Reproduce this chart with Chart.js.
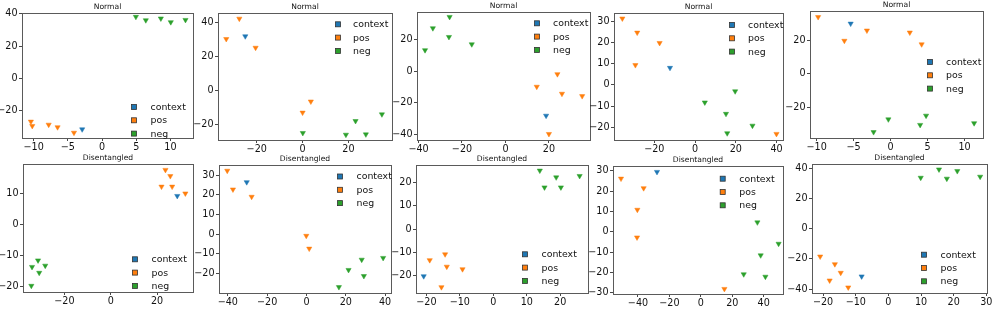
<!DOCTYPE html>
<html><head><meta charset="utf-8">
<script src="https://cdn.jsdelivr.net/npm/chart.js@4.4.1/dist/chart.umd.min.js"></script>
<style>
html,body{margin:0;padding:0;background:#fff;}
#wrap{position:relative;width:997px;height:310px;overflow:hidden;background:#fff;}
canvas{position:absolute;}
</style>
</head><body><div id="wrap"></div>
<script>
// ---------- data ----------
const seriesNames = ['context', 'pos', 'neg'];
const titles = ['Normal','Normal','Normal','Normal','Normal','Disentangled','Disentangled','Disentangled','Disentangled','Disentangled'];

const ctx1 = [[-2.9,-31.8]];
const pos1 = [[-10.4,-27.0],[-10.2,-29.7],[-7.8,-28.9],[-6.5,-30.5],[-4.1,-33.9]];
const neg1 = [[4.95,38.2],[6.4,36.1],[8.6,37.2],[10.05,34.9],[12.2,36.3]];

const ctx2 = [[-25.0,31.7]];
const pos2 = [[-33.3,30.1],[-27.6,42.0],[-20.5,25.0],[0.0,-12.9],[3.6,-6.4]];
const neg2 = [[0.1,-24.8],[18.9,-25.8],[23.1,-17.8],[27.6,-25.6],[34.6,-13.9]];

const ctx3 = [[18.7,-28.0]];
const pos3 = [[14.4,-9.8],[23.9,-1.9],[26.0,-14.2],[35.3,-15.7],[20.0,-39.5]];
const neg3 = [[-37.0,13.2],[-33.4,27.0],[-25.7,34.1],[-26.0,21.5],[-15.5,16.9]];

const ctx4 = [[-12.3,8.1]];
const pos4 = [[-35.7,31.5],[-28.4,24.8],[-17.4,19.9],[-29.3,9.4],[40.0,-23.2]];
const neg4 = [[4.8,-8.3],[15.2,-13.7],[19.7,-3.0],[15.8,-22.9],[28.2,-19.3]];

const ctx5 = [[-5.4,29.8]];
const pos5 = [[-9.8,33.7],[-6.25,19.6],[-3.2,25.7],[2.6,24.5],[4.2,17.5]];
const neg5 = [[-2.3,-34.7],[-0.3,-27.1],[4.0,-30.4],[4.8,-24.9],[11.3,-29.4]];

const ctx6 = [[28.7,9.2]];
const pos6 = [[23.6,17.6],[25.7,15.6],[21.9,12.2],[26.5,12.2],[32.2,10.0]];
const neg6 = [[-34.0,-13.7],[-31.4,-11.6],[-30.9,-15.6],[-28.3,-13.3],[-34.3,-19.8]];

const ctx7 = [[-30.4,26.4]];
const pos7 = [[-40.3,32.2],[-37.4,22.7],[-27.9,19.0],[-0.1,-0.8],[1.4,-7.3]];
const neg7 = [[16.5,-26.8],[21.4,-18.1],[28.1,-12.9],[29.2,-21.2],[39.0,-12.0]];

const ctx8 = [[-20.8,-20.2]];
const pos8 = [[-19.0,-13.3],[-14.4,-10.8],[-13.9,-16.1],[-9.2,-17.2],[-15.5,-24.9]];
const neg8 = [[13.9,25.1],[15.3,17.9],[18.8,22.2],[20.2,17.9],[25.8,22.8]];

const ctx9 = [[-27.9,29.5]];
const pos9 = [[-50.8,26.2],[-36.4,21.5],[-40.4,10.9],[-40.6,-2.7],[15.0,-28.0]];
const neg9 = [[36.0,4.7],[49.5,-5.8],[38.1,-11.5],[27.3,-20.8],[41.1,-22.0]];

const ctx10 = [[-8.2,-31.6]];
const pos10 = [[-20.9,-18.4],[-16.4,-23.5],[-14.6,-29.2],[-18.0,-34.3],[-12.3,-38.9]];
const neg10 = [[9.9,33.8],[15.5,39.3],[17.9,33.2],[21.1,38.2],[28.1,34.5]];

// axis limits [xmin, xmax, ymin, ymax]
const limits = [
  [-11.7,13.3,-37.2,40.6],[-36.9,39.0,-28.9,45.3],[-40.7,38.9,-43.3,37.2],[-39.8,43.2,-26.1,34.1],[-10.9,12.5,-38.2,37.3],
  [-37.9,35.5,-21.8,19.5],[-44.5,43.0,-29.8,35.1],[-23.1,28.3,-27.4,27.5],[-55.9,52.3,-30.5,32.4],[-23.4,30.2,-42.6,42.9]
];
const xTicks = [
  [-10,-5,0,5,10],[-20,0,20],[-40,-20,0,20],[-20,0,20,40],[-10,-5,0,5,10],
  [-20,0,20],[-40,-20,0,20,40],[-20,-10,0,10,20],[-40,-20,0,20,40],[-20,-10,0,10,20,30]
];
const yTicks = [
  [-20,0,20,40],[-20,0,20,40],[-40,-20,0,20],[-20,-10,0,10,20,30],[-20,0,20],
  [-20,-10,0,10],[-20,-10,0,10,20,30],[-20,-10,0,10,20],[-30,-20,-10,0,10,20,30],[-40,-20,0,20,40]
];

const panels = [
  [ctx1,pos1,neg1],[ctx2,pos2,neg2],[ctx3,pos3,neg3],[ctx4,pos4,neg4],[ctx5,pos5,neg5],
  [ctx6,pos6,neg6],[ctx7,pos7,neg7],[ctx8,pos8,neg8],[ctx9,pos9,neg9],[ctx10,pos10,neg10]
];

// ---------- layout & style ----------
const colors = ['#1f77b4', '#ff7f0e', '#2ca02c'];
// plot boxes in page pixels [left, top, right, bottom]
const boxes = [
  [22,13,193,138],[218,13,392,140],[417,12,590,140],[614,13,783,140],[810,11,983,138],
  [23,164,193,292],[219,165,391,293],[416,165,588,293],[613,166,783,294],[812,164,987,293]
];
// legend [square centre x, first row centre y, text x] in page pixels
const legendPos = [
  [134,107,150.5],[338,24.3,353],[537,23.3,553],[732,25,748],[930,62,946],
  [135,259.3,151.5],[340,176.5,356.5],[525,254.3,541.5],[722.7,178.7,739.3],[924,254.7,940.5]
];
const legendStep = 13.3;
const FONT = "'DejaVu Sans', sans-serif";
const PADL = 36, PADT = 14, PADR = 10, PADB = 18;
const spineColor = '#5a5a5a';

function fmt(v){ return v < 0 ? '\u2212' + Math.abs(v) : String(v); }

const framePlugin = {
  id: 'frame',
  afterDraw(chart, args, opts){
    const c = chart.ctx, a = chart.chartArea;
    c.save();
    c.strokeStyle = spineColor; c.lineWidth = 1;
    c.strokeRect(Math.round(a.left)+0.5, Math.round(a.top)+0.5, Math.round(a.right-a.left), Math.round(a.bottom-a.top));
    // title
    c.fillStyle = '#111';
    c.font = '7.6px ' + FONT;
    c.textAlign = 'center'; c.textBaseline = 'alphabetic';
    c.fillText(opts.title, (a.left + a.right)/2, a.top - 4);
    // legend
    const lp = opts.legend;
    c.font = '9.4px ' + FONT;
    c.textAlign = 'left'; c.textBaseline = 'middle';
    seriesNames.forEach((n, k) => {
      const y = lp[1] - opts.oy + k*legendStep;
      const x = lp[0] - opts.ox;
      c.fillStyle = colors[k];
      c.fillRect(x-2.5, y-2.5, 5, 5);
      c.strokeStyle = '#333'; c.lineWidth = 0.8;
      c.strokeRect(x-2.5, y-2.5, 5, 5);
      c.fillStyle = '#111';
      c.fillText(n, lp[2] - opts.ox, y + 0.5);
    });
    c.restore();
  }
};

const wrap = document.getElementById('wrap');
panels.forEach((sets, i) => {
  const b = boxes[i];
  const cv = document.createElement('canvas');
  const ox = b[0] - PADL, oy = b[1] - PADT;
  const w = (b[2]-b[0]) + PADL + PADR, h = (b[3]-b[1]) + PADT + PADB;
  cv.width = w; cv.height = h;
  cv.style.left = ox + 'px'; cv.style.top = oy + 'px';
  cv.style.width = w + 'px'; cv.style.height = h + 'px';
  wrap.appendChild(cv);
  const lim = limits[i];
  const xt = xTicks[i], yt = yTicks[i];
  new Chart(cv, {
    type: 'scatter',
    data: {
      datasets: sets.map((pts, k) => ({
        label: seriesNames[k],
        data: pts.map(p => ({x: p[0], y: p[1]})),
        pointStyle: 'triangle',
        rotation: 180,
        radius: 3,
        backgroundColor: colors[k],
        borderColor: colors[k],
        borderWidth: 0.5
      }))
    },
    options: {
      responsive: false,
      animation: false,
      devicePixelRatio: 1,
      events: [],
      layout: {padding: {left: 0, top: PADT, right: PADR, bottom: 0}},
      plugins: {
        legend: {display: false},
        tooltip: {enabled: false},
        frame: {title: titles[i], legend: legendPos[i], ox: ox, oy: oy}
      },
      scales: {
        x: {
          type: 'linear', position: 'bottom', min: lim[0], max: lim[1],
          afterFit(s){ s.height = PADB; },
          afterBuildTicks(s){ s.ticks = xt.map(v => ({value: v})); },
          border: {display: false},
          grid: {display: true, drawOnChartArea: false, drawTicks: true, tickLength: 3, tickWidth: 0.9, tickColor: '#333'},
          ticks: {padding: 1, color: '#111', font: {family: FONT, size: 9.6}, maxRotation: 0, autoSkip: false, callback: v => fmt(v)}
        },
        y: {
          type: 'linear', position: 'left', min: lim[2], max: lim[3],
          afterFit(s){ s.width = PADL; },
          afterBuildTicks(s){ s.ticks = yt.map(v => ({value: v})); },
          border: {display: false},
          grid: {display: true, drawOnChartArea: false, drawTicks: true, tickLength: 3, tickWidth: 0.9, tickColor: '#333'},
          ticks: {padding: 1.5, color: '#111', font: {family: FONT, size: 9.6}, autoSkip: false, callback: v => fmt(v)}
        }
      }
    },
    plugins: [framePlugin]
  });
});
</script>
</body></html>
